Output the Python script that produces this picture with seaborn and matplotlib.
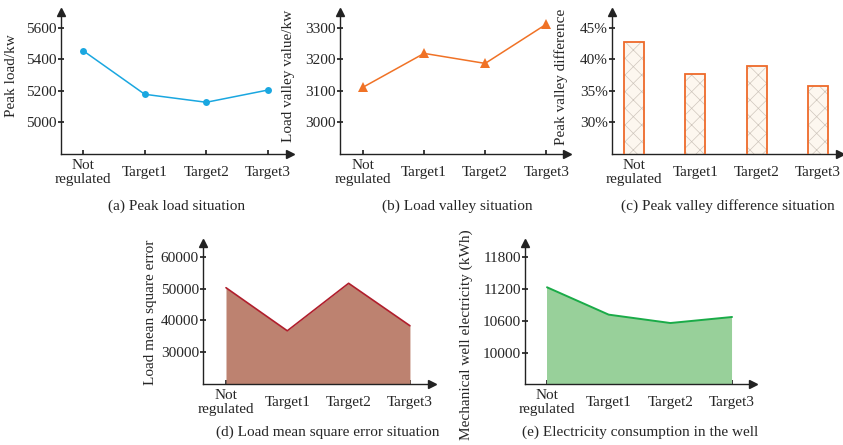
import numpy as np
import pandas as pd
import matplotlib
matplotlib.use("Agg")
import matplotlib.pyplot as plt
from matplotlib.patches import Rectangle
import seaborn as sns

sns.set_theme(style="white")
plt.rcParams['font.family'] = ['Liberation Serif', 'DejaVu Serif']
plt.rcParams['font.size'] = 11

categories = ["Not\nregulated", "Target1", "Target2", "Target3"]
peak_load = [5455, 5177, 5126, 5204]
valley_load = [3111, 3219, 3187, 3312]
peak_valley_diff = [42.8, 37.7, 38.9, 35.8]
mse = [50300, 36700, 51700, 38300]
well_elec = [11232, 10719, 10562, 10675]

W, H = 843, 445
fig = plt.figure(figsize=(W / 100, H / 100), dpi=100)


def make_ax(x0, x1, ybot, ytop):
    return fig.add_axes([x0 / W, 1 - ybot / H, (x1 - x0) / W, (ybot - ytop) / H])


def style(ax, xlim, ylim, yticks, yfmt=None):
    ax.set_xlim(*xlim)
    ax.set_ylim(*ylim)
    for s in ["top", "right"]:
        ax.spines[s].set_visible(False)
    for s in ["left", "bottom"]:
        ax.spines[s].set_color("#222222")
        ax.spines[s].set_linewidth(1.0)
    ax.set_xticks(range(len(categories)))
    ax.set_xticklabels(categories, va="center", linespacing=1.15)
    ax.set_yticks(yticks)
    if yfmt:
        ax.set_yticklabels([yfmt(v) for v in yticks])
    ax.tick_params(axis="x", direction="in", length=3, pad=13.5, labelsize=11,
                   color="#222222", bottom=True)
    ax.tick_params(axis="y", direction="inout", length=4, pad=1, labelsize=11,
                   color="#222222", left=True)
    ax.set_xlabel("")
    ax.grid(False)
    ax.plot(1, 0, ">", color="#222222", ms=6, transform=ax.transAxes, clip_on=False)
    ax.plot(0, 1, "^", color="#222222", ms=6, transform=ax.transAxes, clip_on=False)


xs = np.arange(len(categories))

# (a)
ax = make_ax(61, 290, 154, 12)
df = pd.DataFrame({"cat": categories, "v": peak_load})
sns.lineplot(data=df, x="cat", y="v", sort=False, ax=ax, color="#1aa7e0",
             marker="o", markersize=5, markeredgewidth=0, linewidth=1.1)
style(ax, (-0.36, 3.36), (4796, 5702), [5000, 5200, 5400, 5600])
ax.set_ylabel("Peak load/kw", fontsize=11)
ax.yaxis.set_label_coords((18 - 61) / 229, (154 - 76) / 142)
fig.text(177 / W, 1 - 206 / H, "(a) Peak load situation", ha="center", va="center", fontsize=11)

# (b)
ax = make_ax(340, 567, 154, 12)
df = pd.DataFrame({"cat": categories, "v": valley_load})
sns.lineplot(data=df, x="cat", y="v", sort=False, ax=ax, color="#f07226",
             marker="^", markersize=6.5, markeredgewidth=0, linewidth=1.1)
style(ax, (-0.377, 3.34), (2898, 3351), [3000, 3100, 3200, 3300])
ax.set_ylabel("Load valley value/kw", fontsize=11)
ax.yaxis.set_label_coords((295 - 340) / 227, (154 - 76) / 142)
fig.text(457 / W, 1 - 206 / H, "(b) Load valley situation", ha="center", va="center", fontsize=11)

# (c)
ax = make_ax(612, 840, 154, 12)
df = pd.DataFrame({"cat": categories, "v": peak_valley_diff})
plt.rcParams['hatch.linewidth'] = 0.5
sns.barplot(data=df, x="cat", y="v", ax=ax, color="#fdf7ef", width=0.33,
            edgecolor="#cfc6bd", linewidth=0, hatch="xx")
for p in list(ax.patches):
    p.set_facecolor("#fdf7ef")
    p.set_edgecolor("#cfc6bd")
    p.set_linewidth(0)
    ax.add_patch(Rectangle(p.get_xy(), p.get_width(), p.get_height(),
                           fill=False, edgecolor="#ee6a2a", linewidth=1.3, zorder=3))
style(ax, (-0.36, 3.36), (24.9, 47.55), [30, 35, 40, 45], yfmt=lambda v: f"{v}%")
ax.set_ylabel("Peak valley difference", fontsize=11)
ax.yaxis.set_label_coords((568 - 612) / 228, (154 - 77) / 142)
fig.text(728 / W, 1 - 206 / H, "(c) Peak valley difference situation", ha="center", va="center", fontsize=11)

# (d)
ax = make_ax(203, 432, 384, 243)
df = pd.DataFrame({"x": xs, "v": mse})
ax.fill_between(xs, mse, 0, color="#bd8270", linewidth=0)
sns.lineplot(data=df, x="x", y="v", sort=False, ax=ax, color="#b01e2c", linewidth=1.2)
style(ax, (-0.375, 3.36), (19900, 64420), [30000, 40000, 50000, 60000])
ax.set_ylabel("Load mean square error", fontsize=11)
ax.yaxis.set_label_coords((157 - 203) / 229, (384 - 312) / 141)
fig.text(328 / W, 1 - 432 / H, "(d) Load mean square error situation", ha="center", va="center", fontsize=11)

# (e)
ax = make_ax(525, 753, 384, 243)
df = pd.DataFrame({"x": xs, "v": well_elec})
ax.fill_between(xs, well_elec, 0, color="#98d09a", linewidth=0)
sns.lineplot(data=df, x="x", y="v", sort=False, ax=ax, color="#1aab48", linewidth=1.4)
style(ax, (-0.357, 3.34), (9419, 12062), [10000, 10600, 11200, 11800])
ax.set_ylabel("Mechanical well electricity (kWh)", fontsize=11)
ax.yaxis.set_label_coords((473 - 525) / 228, (384 - 335) / 141)
fig.text(640 / W, 1 - 432 / H, "(e) Electricity consumption in the well", ha="center", va="center", fontsize=11)

fig.savefig("out.png", dpi=100)
